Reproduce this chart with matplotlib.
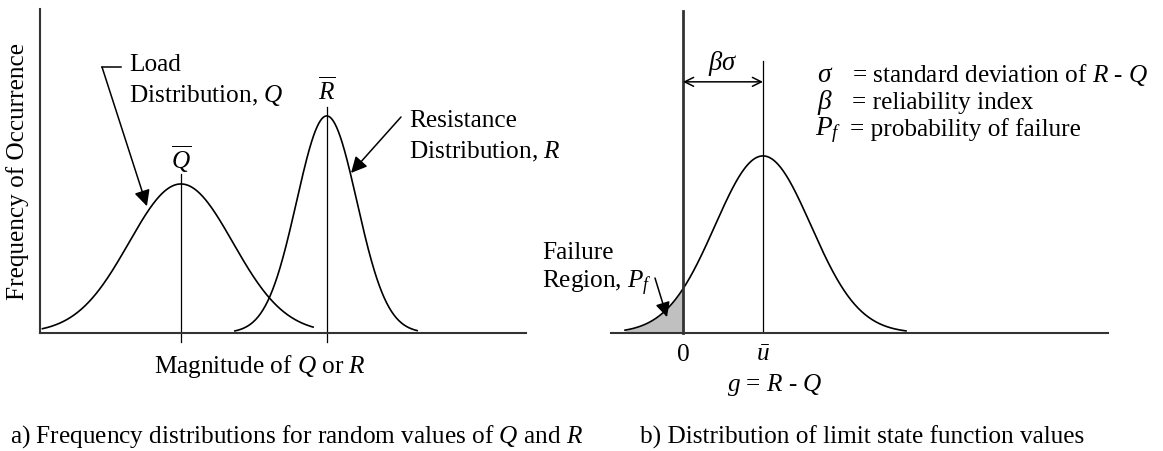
import matplotlib
matplotlib.use("Agg")
import matplotlib.pyplot as plt
import numpy as np

plt.rcParams["font.family"] = ["Liberation Serif", "DejaVu Serif"]
plt.rcParams["mathtext.fontset"] = "custom"
plt.rcParams["mathtext.rm"] = "Liberation Serif"
plt.rcParams["mathtext.it"] = "Liberation Serif:italic"
plt.rcParams["mathtext.bf"] = "Liberation Serif:bold"

W, H = 1163, 452
FS = 18.2

# --- data: illustrative normal distributions (mean, sd, peak height, drawn extent)
load_mean, load_sd, load_peak = 2.9, 1.07, 0.46
load_extent = [0.05, 5.62]
res_mean, res_sd, res_peak = 5.9, 0.62, 0.67
res_extent = [4.01, 7.76]

g_mean, g_sd, g_peak = 1.6, 0.96, 0.55
g_extent = [-1.16, 4.46]

left_xlim = [0, 10]
right_xlim = [-1.44, 8.5]


def bell(x, mean, sd, peak):
    return peak * np.exp(-0.5 * ((x - mean) / sd) ** 2)


def ftext(x, y, s, **kw):
    # x, y in image pixels (origin top-left)
    kw.setdefault("fontsize", FS)
    kw.setdefault("va", "center")
    return fig.text(x / W, 1 - y / H, s, **kw)


fig = plt.figure(figsize=(W / 100, H / 100), dpi=100)
fig.patch.set_facecolor("white")

# ---------------- left panel ----------------
ax1 = fig.add_axes([40 / W, 118 / H, 486 / W, 324 / H])
ax1.set_xlim(left_xlim)
ax1.set_ylim(0, 1)
for s in ["top", "right"]:
    ax1.spines[s].set_visible(False)
for s in ["left", "bottom"]:
    ax1.spines[s].set_color("#333333")
    ax1.spines[s].set_linewidth(1.5)
ax1.set_xticks([])
ax1.set_yticks([])
ax1.patch.set_alpha(0)

xq = np.linspace(*load_extent, 300)
ax1.plot(xq, bell(xq, load_mean, load_sd, load_peak), color="black", lw=1.2, clip_on=False)
xr = np.linspace(*res_extent, 300)
ax1.plot(xr, bell(xr, res_mean, res_sd, res_peak), color="black", lw=1.2, clip_on=False)

ax1.plot([load_mean, load_mean], [-0.028, load_peak + 0.03], color="black", lw=0.9, clip_on=False)
ax1.plot([res_mean, res_mean], [-0.028, res_peak + 0.028], color="black", lw=0.9, clip_on=False)

for m, pk, lab in [(load_mean, load_peak, r"$\overline{Q}$"), (res_mean, res_peak, r"$\overline{R}$")]:
    ax1.annotate(lab, xy=(m, pk), xytext=(0, 26), textcoords="offset pixels",
                 ha="center", va="center", fontsize=FS)

ftext(18, 172, "Frequency of Occurrence", rotation=90, ha="center")
ftext(129, 65, "Load", ha="left")
ftext(129, 96, r"Distribution, $Q$", ha="left")
ftext(409, 121, "Resistance", ha="left")
ftext(409, 152, r"Distribution, $R$", ha="left")
ftext(260, 367, r"Magnitude of $Q$ or $R$", ha="center")

# leader lines
fig.add_artist(plt.Line2D([102 / W, 121 / W], [1 - 68 / H, 1 - 68 / H], color="black", lw=1.1))
tip_q = 2.2
ax1.annotate("", xy=(tip_q, bell(tip_q, load_mean, load_sd, load_peak) + 0.02),
             xytext=(102, H - 68), textcoords="figure pixels",
             arrowprops=dict(arrowstyle="-|>", color="black", lw=1.1, mutation_scale=24,
                             shrinkA=0, shrinkB=0))
tip_r = 6.4
ax1.annotate("", xy=(tip_r, bell(tip_r, res_mean, res_sd, res_peak) + 0.01),
             xytext=(401, H - 118), textcoords="figure pixels",
             arrowprops=dict(arrowstyle="-|>", color="black", lw=1.1, mutation_scale=24,
                             shrinkA=0, shrinkB=0))

# ---------------- right panel ----------------
ax2 = fig.add_axes([611 / W, 118 / H, 497 / W, 322 / H])
ax2.set_xlim(right_xlim)
ax2.set_ylim(0, 1)
ax2.spines["top"].set_visible(False)
ax2.spines["right"].set_visible(False)
ax2.spines["left"].set_position(("data", 0))
ax2.spines["left"].set_color("#333333")
ax2.spines["left"].set_linewidth(2.0)
ax2.spines["bottom"].set_color("#333333")
ax2.spines["bottom"].set_linewidth(1.5)
ax2.set_yticks([])
ax2.set_xticks([0, g_mean])
ax2.set_xticklabels(["0", r"$\bar{u}$"], fontsize=FS)
ax2.tick_params(axis="x", length=0, pad=7)
ax2.patch.set_alpha(0)

xg = np.linspace(*g_extent, 400)
yg = bell(xg, g_mean, g_sd, g_peak)
ax2.plot(xg, yg, color="black", lw=1.2, clip_on=False)
fail = xg <= 0
ax2.fill_between(xg[fail], 0, yg[fail], color="#c0c0c0", lw=0)
ax2.plot([g_mean, g_mean], [0, 0.845], color="black", lw=0.9)

ax2.annotate("", xy=(0, 0.78), xytext=(g_mean, 0.78),
             arrowprops=dict(arrowstyle="<->", color="black", lw=1.1, mutation_scale=16,
                             shrinkA=0, shrinkB=0))
ax2.annotate(r"$\beta\sigma$", xy=(g_mean / 2, 0.78), xytext=(0, 19), textcoords="offset pixels",
             ha="center", va="center", fontsize=FS + 1)

SYM = FS + 1.5
ftext(817, 76, r"$\sigma$", ha="left", fontsize=SYM)
ftext(852, 75, r"= standard deviation of $R$ - $Q$", ha="left")
ftext(817, 103, r"$\beta$", ha="left", fontsize=SYM)
ftext(852, 103, "= reliability index", ha="left")
ftext(815, 130, r"$P_f$", ha="left", fontsize=SYM)
ftext(850, 130, "= probability of failure", ha="left")

ftext(542, 253, "Failure", ha="left")
ftext(542, 283, r"Region, $P_f$", ha="left")
tip_g = -0.32
ax2.annotate("", xy=(tip_g, bell(tip_g, g_mean, g_sd, g_peak) - 0.025),
             xytext=(655, H - 279), textcoords="figure pixels",
             arrowprops=dict(arrowstyle="-|>", color="black", lw=1.1, mutation_scale=22,
                             shrinkA=0, shrinkB=0))

ftext(775, 385, r"$g$ = $R$ - $Q$", ha="center")

# captions
ftext(10, 437, r"a) Frequency distributions for random values of $Q$ and $R$", ha="left")
ftext(640, 437, "b) Distribution of limit state function values", ha="left")

fig.savefig("out.png", dpi=100, facecolor="white")
